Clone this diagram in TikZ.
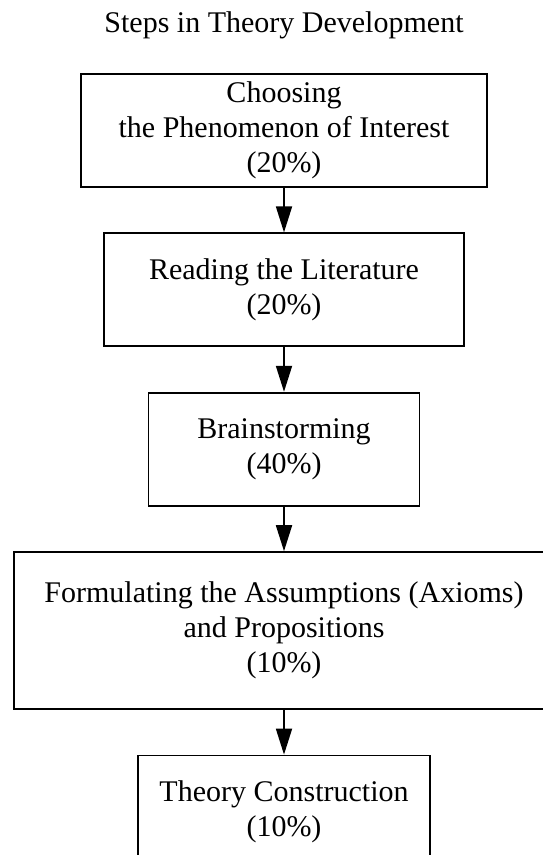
\documentclass[tikz,border=0pt]{standalone}
\usepackage{fontspec}
\setmainfont{Liberation Serif}
\usetikzlibrary{positioning,arrows.meta}
\begin{document}
\begin{tikzpicture}[
  stepbox/.style={rectangle,draw,align=center,inner sep=0pt,
    minimum height=56.5pt,font=\fontsize{15}{17.5}\selectfont},
  heading/.style={align=center,font=\fontsize{15}{17.5}\selectfont},
  node distance=22.3pt,
  line width=0.9pt,
  >={Triangle[length=13pt,width=8pt]}
  ]
  \useasboundingbox (0,0) rectangle (271pt,-427.5pt);
  \node [heading,anchor=base] (TTL) at (142pt,-16.5pt) {Steps in Theory Development};
  \node [stepbox,minimum width=203pt,anchor=north] (CHO) at (142pt,-36.5pt) {Choosing\\the Phenomenon of Interest\\(20\%)};
  \node [stepbox,minimum width=180pt] (REA) [below=of CHO] {Reading the Literature\\(20\%)};
  \node [stepbox,minimum width=135.5pt] (BRA) [below=of REA] {Brainstorming\\(40\%)};
  \node [stepbox,minimum width=270pt,minimum height=78.5pt] (FOR) [below=of BRA] {Formulating the Assumptions (Axioms)\\and Propositions\\(10\%)};
  \node [stepbox,minimum width=146pt] (THE) [below=of FOR] {Theory Construction\\(10\%)};

  \draw[->] (CHO) -- (REA);
  \draw[->] (REA) -- (BRA);
  \draw[->] (BRA) -- (FOR);
  \draw[->] (FOR) -- (THE);
\end{tikzpicture}
\end{document}
